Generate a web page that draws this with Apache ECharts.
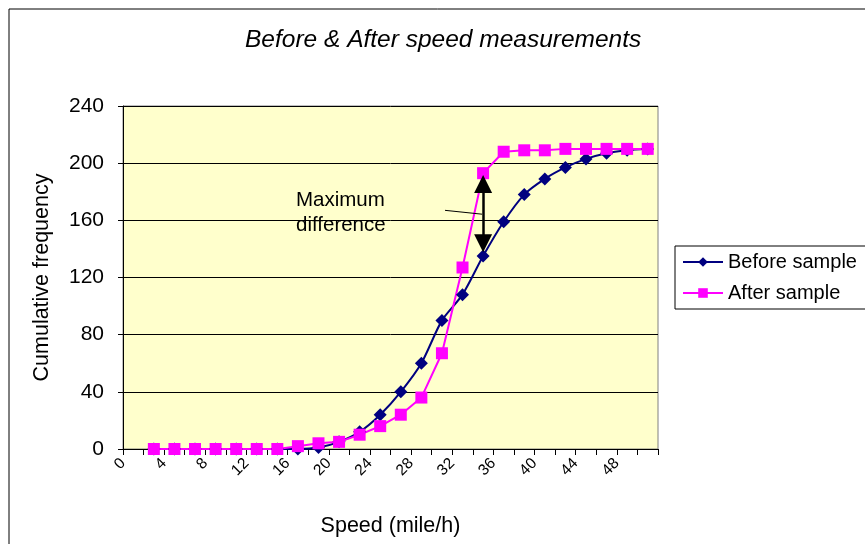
<!DOCTYPE html>
<html>
<head>
<meta charset="utf-8">
<script src="https://cdn.jsdelivr.net/npm/echarts@6/dist/echarts.min.js"></script>
<style>
  html, body { margin: 0; padding: 0; background: #fff; }
  #chart { width: 865px; height: 544px; }
</style>
</head>
<body>
<div id="chart"></div>
<script>
// speed classes (mile/h) and cumulative counts
const speeds = [3, 5, 7, 9, 11, 13, 15, 17, 19, 21, 23, 25, 27, 29, 31, 33, 35, 37, 39, 41, 43, 45, 47, 49, 51]
const beforeSample = [0, 0, 0, 0, 0, 0, 0, 0, 1, 5, 12, 24, 40, 60, 90, 108, 135, 159, 178, 189, 197, 203, 207, 209, 210]
const afterSample = [0, 0, 0, 0, 0, 0, 0, 2, 4, 5, 10, 16, 24, 36, 67, 127, 193, 208, 209, 209, 210, 210, 210, 210, 210]

// annotation: double arrow at the max difference, and a pointer line to the note
const arrowFrom = [35, 185.5]
const arrowTo = [35, 144]
const pointerFrom = [31.3, 167]
const pointerTo = [34.9, 164.3]

const FONT = 'Liberation Sans, Arial, sans-serif'

const chart = echarts.init(document.getElementById('chart'))

const option = {
  animation: false,
  backgroundColor: '#ffffff',
  title: {
    text: 'Before & After speed measurements',
    left: 240,
    top: 23,
    textStyle: {
      fontFamily: FONT,
      fontSize: 24.5,
      fontStyle: 'italic',
      fontWeight: 'normal',
      color: '#000'
    }
  },
  legend: {
    orient: 'vertical',
    left: 675,
    top: 246,
    padding: [6, 20, 6, 7],
    itemGap: 11,
    itemWidth: 40,
    itemHeight: 12,
    borderColor: '#000',
    borderWidth: 1,
    backgroundColor: '#fff',
    textStyle: { fontFamily: FONT, fontSize: 20, color: '#000' },
    data: ['Before sample', 'After sample']
  },
  grid: {
    left: 123,
    top: 106,
    width: 535,
    height: 343,
    show: true,
    backgroundColor: '#FFFFCC',
    borderColor: '#808080',
    borderWidth: 1
  },
  xAxis: {
    type: 'value',
    min: 0,
    max: 52,
    interval: 2,
    name: 'Speed (mile/h)',
    nameLocation: 'middle',
    nameGap: 66,
    nameTextStyle: { fontFamily: FONT, fontSize: 21.5, color: '#000' },
    axisLine: { onZero: false, lineStyle: { color: '#000', width: 1 } },
    axisTick: { show: true, length: 6, lineStyle: { color: '#000' } },
    axisLabel: {
      rotate: 45,
      margin: 12,
      fontFamily: FONT,
      fontSize: 15.5,
      color: '#000',
      showMaxLabel: true,
      formatter: v => (v % 4 === 0 && v < 52 ? String(v) : '')
    },
    splitLine: { show: false }
  },
  yAxis: {
    type: 'value',
    min: 0,
    max: 240,
    interval: 40,
    name: 'Cumulative frequency',
    nameLocation: 'middle',
    nameGap: 70,
    nameTextStyle: { fontFamily: FONT, fontSize: 21.5, color: '#000' },
    axisLine: { show: true, lineStyle: { color: '#000', width: 1 } },
    axisTick: { show: true, length: 5, lineStyle: { color: '#000' } },
    axisLabel: { margin: 19, fontFamily: FONT, fontSize: 21, color: '#000' },
    splitLine: { lineStyle: { color: '#000', width: 1 } }
  },
  series: [
    {
      name: 'Before sample',
      type: 'line',
      data: speeds.map((s, i) => [s, beforeSample[i]]),
      smooth: 0.25,
      symbol: 'diamond',
      symbolSize: 13,
      lineStyle: { color: '#000080', width: 2 },
      itemStyle: { color: '#000080' },
      markLine: {
        silent: true,
        animation: false,
        label: { show: false },
        data: [
          [
            { coord: arrowFrom, symbol: 'triangle', symbolSize: 18 },
            { coord: arrowTo, symbol: 'triangle', symbolSize: 18 }
          ],
          [
            { coord: pointerFrom, symbol: 'none', lineStyle: { width: 1 } },
            { coord: pointerTo, symbol: 'none' }
          ]
        ],
        lineStyle: { color: '#000', width: 2.5, type: 'solid' }
      }
    },
    {
      name: 'After sample',
      type: 'line',
      data: speeds.map((s, i) => [s, afterSample[i]]),
      symbol: 'rect',
      symbolSize: 12,
      lineStyle: { color: '#FF00FF', width: 2 },
      itemStyle: { color: '#FF00FF' }
    }
  ],
  graphic: [
    {
      type: 'rect',
      shape: { x: 9, y: 9, width: 900, height: 600 },
      style: { fill: 'none', stroke: '#000', lineWidth: 1 },
      silent: true
    },
    {
      type: 'text',
      x: 296,
      y: 188,
      style: {
        text: 'Maximum\ndifference',
        font: '20.5px ' + FONT,
        fill: '#000',
        lineHeight: 25
      },
      z: 10
    }
  ]
}

chart.setOption(option)
</script>
</body>
</html>
